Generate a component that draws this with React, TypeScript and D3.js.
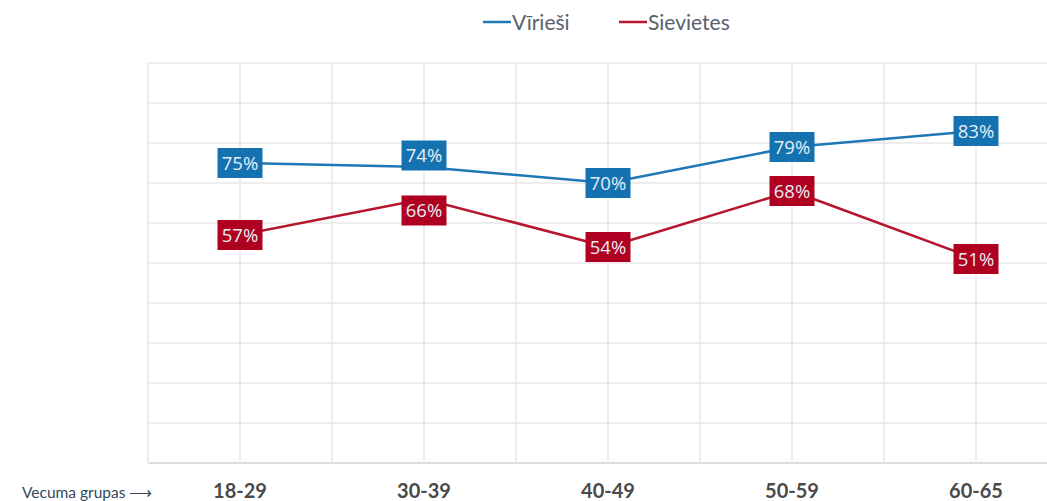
import React from "react";
import * as d3 from "d3";

const categories = ["18-29", "30-39", "40-49", "50-59", "60-65"];
const men = [75, 74, 70, 79, 83];
const women = [57, 66, 54, 68, 51];
const seriesNames = ["Vīrieši", "Sievietes"];
const yTicks = [0, 10, 20, 30, 40, 50, 60, 70, 80, 90, 100];
const axisTitle = "Vecuma grupas";

const W = 1047;
const H = 501;
const left = 148;
const right = 1068;
const top = 63;
const bottom = 463;

const BLUE_LINE = "#1f78b6";
const BLUE_BOX = "#1472b1";
const RED_LINE = "#b5152f";
const RED_BOX = "#b00022";
const GRID = "#e7e7e7";

export default function App() {
  const x = d3.scaleBand<string>().domain(categories).range([left, right]).paddingInner(0).paddingOuter(0);
  const y = d3.scaleLinear().domain([0, 100]).range([bottom, top]);
  const cx = (c: string) => (x(c) as number) + x.bandwidth() / 2;

  const line = d3
    .line<number>()
    .x((_, i) => cx(categories[i]))
    .y((v) => y(v));

  const boxW = 45;
  const boxH = 30;

  // label vertical offsets: push apart if too close
  const offsets = categories.map((_, i) => {
    const a = y(men[i]);
    const b = y(women[i]);
    const d = Math.abs(a - b);
    if (d < 40) {
      const push = (55 - d) / 2;
      return a < b ? [-push, push] : [push, -push];
    }
    return [0, 0];
  });

  const vLines: number[] = [];
  categories.forEach((c) => {
    vLines.push(x(c) as number);
    vLines.push(cx(c));
  });
  vLines.push(right);

  const series = [
    { vals: men, line: BLUE_LINE, box: BLUE_BOX, idx: 0 },
    { vals: women, line: RED_LINE, box: RED_BOX, idx: 1 },
  ];

  return (
    <div style={{ position: "absolute", left: 0, top: 0 }}>
      <svg width={W} height={H} style={{ display: "block" }}>
        <rect x={0} y={0} width={W} height={H} fill="#fff" />
        {yTicks.map((t) => (
          <line key={"h" + t} x1={left} x2={right} y1={y(t)} y2={y(t)} stroke={t === 0 ? "#dedede" : GRID} strokeWidth={t === 0 ? 2 : 1.5} />
        ))}
        {vLines.map((v, i) => (
          <line key={"v" + i} x1={v} x2={v} y1={top} y2={bottom} stroke={GRID} strokeWidth={1.5} />
        ))}
        {series.map((s) => (
          <path key={"l" + s.idx} d={line(s.vals) as string} fill="none" stroke={s.line} strokeWidth={2.5} strokeLinejoin="round" />
        ))}
        {series.map((s) =>
          s.vals.map((v, i) => {
            const px = cx(categories[i]);
            const py = y(v) + offsets[i][s.idx];
            return (
              <g key={"b" + s.idx + i}>
                <rect x={px - boxW / 2} y={py - boxH / 2} width={boxW} height={boxH} fill={s.box} />
                <text
                  x={px}
                  y={py + 6.8}
                  textAnchor="middle"
                  fontFamily="'Open Sans', sans-serif"
                  fontSize={18.5}
                  fill="#e6edf4"
                >
                  {v}%
                </text>
              </g>
            );
          })
        )}
        {categories.map((c) => (
          <text key={"x" + c} x={cx(c)} y={498} textAnchor="middle" fontFamily="Lato, sans-serif" fontWeight={700} fontSize={20} fill="#4a4a4a">
            {c}
          </text>
        ))}
        <text x={22} y={498} fontFamily="Lato, sans-serif" fontSize={15.5} fill="#34495e">
          {axisTitle} ⟶
        </text>
        {/* legend */}
        <g>
          <line x1={483} x2={511} y1={22} y2={22} stroke={BLUE_LINE} strokeWidth={2.5} />
          <text x={512} y={29.5} fontFamily="Lato, sans-serif" fontSize={21} fill="#58616d">
            {seriesNames[0]}
          </text>
          <line x1={619} x2={647} y1={22} y2={22} stroke={RED_LINE} strokeWidth={2.5} />
          <text x={648} y={29.5} fontFamily="Lato, sans-serif" fontSize={21} fill="#58616d">
            {seriesNames[1]}
          </text>
        </g>
      </svg>
    </div>
  );
}
